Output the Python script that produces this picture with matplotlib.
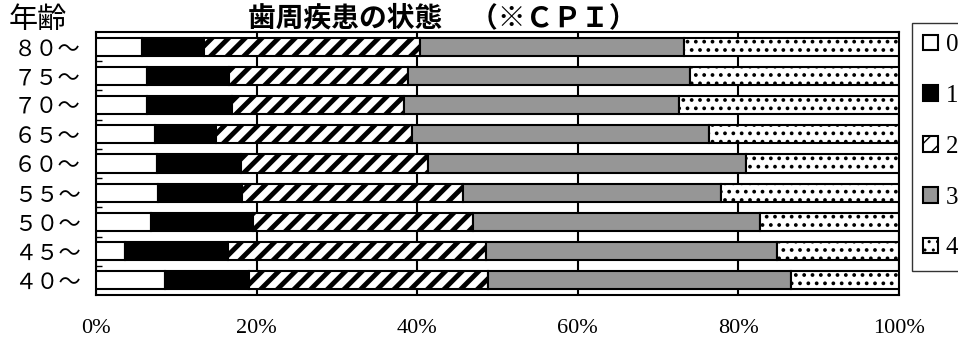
import numpy as np
import matplotlib.pyplot as plt

plt.rcParams['font.family'] = ['Noto Sans CJK JP', 'DejaVu Sans']

ages = ['４０～', '４５～', '５０～', '５５～', '６０～', '６５～', '７０～', '７５～', '８０～']
labels = ['0', '1', '2', '3', '4']

# cumulative boundaries (%), bottom row first
cum0 = [8.6, 3.6, 6.8, 7.7, 7.6, 7.3, 6.4, 6.3, 5.7]
cum1 = [19.0, 16.4, 19.5, 18.2, 18.0, 14.9, 16.9, 16.6, 13.4]
cum2 = [48.8, 48.6, 47.0, 45.7, 41.4, 39.3, 38.3, 38.9, 40.4]
cum3 = [86.5, 84.8, 82.7, 77.8, 81.0, 76.4, 72.6, 74.0, 73.2]

cums = np.array([[0] * 9, cum0, cum1, cum2, cum3, [100] * 9], dtype=float)
vals = np.diff(cums, axis=0)

faces = ['white', 'black', 'white', '#969696', 'white']
hatches = [None, None, '//', None, '..']
hlw = [1.0, 1.0, 3.5, 1.0, 1.5]

fig = plt.figure(figsize=(9.58, 3.45), dpi=100)
ax = fig.add_axes([96 / 958, 50 / 345, 803 / 958, 263 / 345])

y = np.arange(len(ages))
for i in range(5):
    with plt.rc_context({'hatch.linewidth': hlw[i]}):
        ax.barh(y, vals[i], left=cums[i], height=0.62, color=faces[i],
                edgecolor='black', linewidth=1.5, hatch=hatches[i],
                label=labels[i], zorder=3)

ax.set_xlim(0, 100)
ax.set_ylim(-0.5, 8.5)
ax.set_xticks([0, 20, 40, 60, 80, 100])
ax.set_xticklabels(['0%', '20%', '40%', '60%', '80%', '100%'],
                   family='Liberation Serif', fontsize=16)
ax.tick_params(axis='x', length=0, pad=17)
ax.set_yticks(y)
ax.set_yticklabels(ages, fontsize=16)
ax.tick_params(axis='y', length=0, pad=11)
ax.set_yticks(np.arange(0.5, 8, 1), minor=True)
ax.tick_params(axis='y', which='minor', direction='in', length=4, width=1)
ax.grid(axis='x', color='black', linewidth=1.5, zorder=0)
ax.set_axisbelow(True)
for s in ax.spines.values():
    s.set_linewidth(1.5)

fig.text(248 / 958, 1 - 18 / 345, '歯周疾患の状態　（※ＣＰＩ）', fontsize=20,
         ha='left', va='center', fontweight='bold')
fig.text(9 / 958, 1 - 20 / 345, '年齢', fontsize=21, ha='left', va='center')

h, l = ax.get_legend_handles_labels()
leg = fig.legend(h, l, loc='upper left',
                 bbox_to_anchor=(912 / 958, 1 - 23 / 345),
                 prop={'family': 'Liberation Serif', 'size': 18},
                 handlelength=0.6, handleheight=0.6, handletextpad=0.3,
                 labelspacing=1.15, borderpad=0.45, frameon=True, fancybox=False,
                 borderaxespad=0)
leg.get_frame().set_edgecolor('black')
leg.get_frame().set_linewidth(1.0)

fig.savefig('out.png', dpi=100)
